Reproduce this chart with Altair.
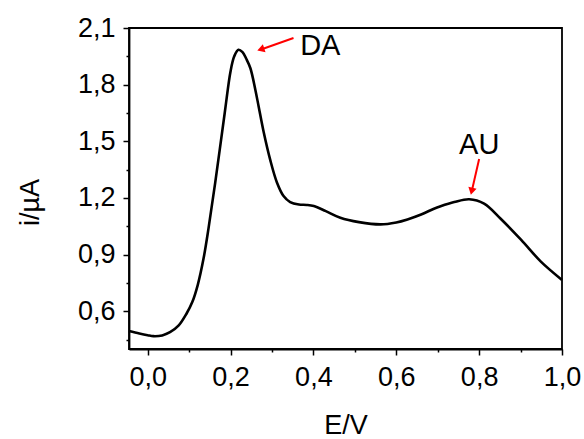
import altair as alt
import pandas as pd

# Curve
E = [-0.045, -0.02, 0.0, 0.014, 0.035, 0.054, 0.075, 0.094, 0.108, 0.121, 0.135,
     0.147, 0.163, 0.186, 0.200, 0.209, 0.219, 0.229, 0.238, 0.248, 0.26, 0.268,
     0.28, 0.296, 0.312, 0.328, 0.344, 0.365, 0.384, 0.401, 0.43, 0.465, 0.51,
     0.562, 0.6, 0.627, 0.66, 0.691, 0.707, 0.74, 0.776, 0.812, 0.852, 0.901,
     0.949, 1.0]
I = [0.495, 0.482, 0.473, 0.468, 0.472, 0.489, 0.525, 0.588, 0.65, 0.74, 0.880,
     1.040, 1.28, 1.65, 1.87, 1.950, 1.985, 1.972, 1.937, 1.887, 1.772, 1.683,
     1.549, 1.400, 1.282, 1.21, 1.178, 1.165, 1.163, 1.157, 1.13, 1.095, 1.072,
     1.06, 1.07, 1.086, 1.112, 1.143, 1.156, 1.178, 1.193, 1.170, 1.090, 0.979,
     0.863, 0.766]

# Annotations
labels = ["DA", "AU"]
label_x = [0.368, 0.7515]
label_y = [1.958, 1.433]
arrow_id = ["DA", "DA", "AU", "AU"]
arrow_x = [0.352, 0.277, 0.800, 0.783]
arrow_y = [2.047, 1.989, 1.406, 1.243]
head_x = [0.273, 0.782]
head_y = [1.987, 1.235]
head_angle = [251.5, 192.8]

x_major = [0.0, 0.2, 0.4, 0.6, 0.8, 1.0]
x_minor = [0.1, 0.3, 0.5, 0.7, 0.9]
y_major = [0.6, 0.9, 1.2, 1.5, 1.8, 2.1]
y_minor = [0.45, 0.75, 1.05, 1.35, 1.65, 1.95]

FONT = "Liberation Sans"

curve = pd.DataFrame({"E": E, "I": I})
lab = pd.DataFrame({"t": labels, "x": label_x, "y": label_y})
arr = pd.DataFrame({"id": arrow_id, "x": arrow_x, "y": arrow_y})
heads = pd.DataFrame({"x": head_x, "y": head_y, "a": head_angle})

xscale = alt.Scale(domain=[-0.045, 1.0], nice=False, zero=False)
yscale = alt.Scale(domain=[0.4, 2.1], nice=False, zero=False)

x_axis = alt.Axis(
    title="E/V", values=x_major, labelOverlap=False, tickSize=6,
    labelExpr="replace(format(datum.value, '.1f'), '.', ',')",
    labelPadding=9, titleY=84, titleBaseline="alphabetic",
)
y_axis = alt.Axis(
    title="i/µA", values=y_major, labelOverlap=False, tickSize=6,
    labelExpr="replace(format(datum.value, '.1f'), '.', ',')",
    labelPadding=8, titleX=-91, titleY=174, titleAngle=-90,
    titleBaseline="alphabetic", titleAlign="center",
)
x_minor_axis = alt.Axis(
    title=None, values=x_minor, labels=False, domain=False, tickSize=3, orient="bottom",
)
y_minor_axis = alt.Axis(
    title=None, values=y_minor, labels=False, domain=False, tickSize=3, orient="left",
)

line = alt.Chart(curve).mark_line(color="black", strokeWidth=2.6, interpolate="catmull-rom").encode(
    x=alt.X("E:Q", scale=xscale, axis=x_axis),
    y=alt.Y("I:Q", scale=yscale, axis=y_axis),
)

minor = alt.Chart(curve).mark_line(opacity=0).encode(
    x=alt.X("E:Q", scale=xscale, axis=x_minor_axis),
    y=alt.Y("I:Q", scale=yscale, axis=y_minor_axis),
)

arrows = alt.Chart(arr).mark_line(color="#ff0000", strokeWidth=2).encode(
    x=alt.X("x:Q", scale=xscale, axis=None),
    y=alt.Y("y:Q", scale=yscale, axis=None),
    detail="id:N",
)

arrowheads = alt.Chart(heads).mark_point(
    shape="triangle-up", filled=True, color="#ff0000", size=70, opacity=1
).encode(
    x=alt.X("x:Q", scale=xscale, axis=None),
    y=alt.Y("y:Q", scale=yscale, axis=None),
    angle=alt.Angle("a:Q", scale=None),
)

texts = alt.Chart(lab).mark_text(
    align="left", baseline="alphabetic", font=FONT, fontSize=29, color="black"
).encode(
    x=alt.X("x:Q", scale=xscale, axis=None),
    y=alt.Y("y:Q", scale=yscale, axis=None),
    text="t:N",
)

chart = alt.layer(line, minor, arrows, arrowheads, texts).resolve_axis(
    x="independent", y="independent"
).properties(
    width=433, height=321,
    autosize=alt.AutoSizeParams(type="none"),
    padding={"left": 129, "top": 28, "right": 22, "bottom": 90},
    background="white",
).configure_view(
    stroke="black", strokeWidth=1.8,
).configure_axis(
    grid=False, domainColor="black", domainWidth=1.8, tickColor="black", tickWidth=1.5,
    labelFont=FONT, labelFontSize=27, labelColor="black",
    titleFont=FONT, titleFontSize=27, titleColor="black", titleFontWeight="normal",
    labelFlush=False,
)

chart.save("out.html", embed_options={"renderer": "svg", "actions": False})
